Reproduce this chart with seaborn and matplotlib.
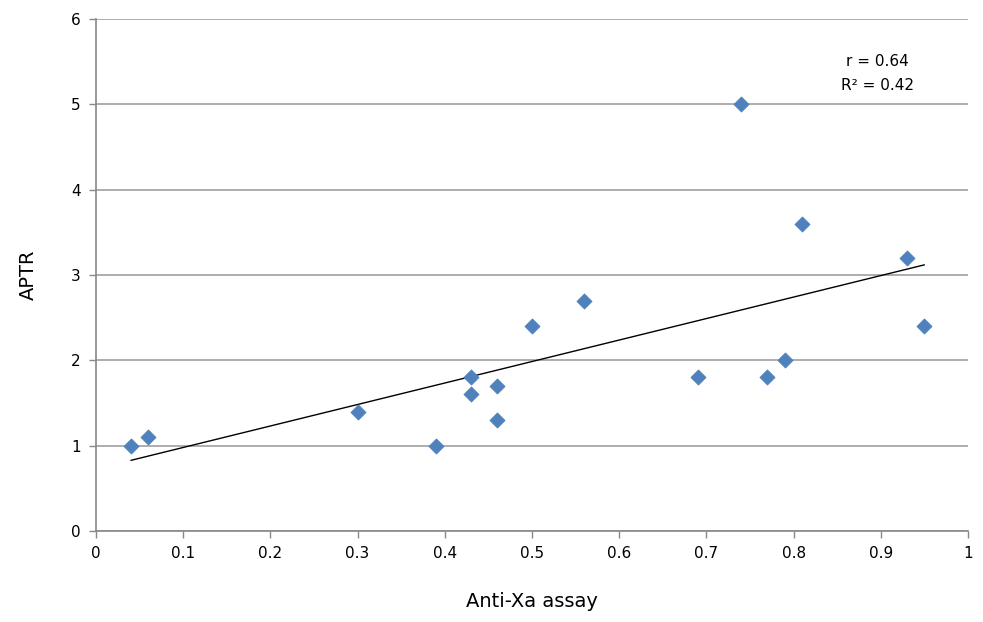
import numpy as np
import pandas as pd
import seaborn as sns
import matplotlib.pyplot as plt

anti_xa = [0.04, 0.06, 0.30, 0.39, 0.43, 0.43, 0.46, 0.46, 0.50, 0.56,
           0.69, 0.74, 0.77, 0.79, 0.81, 0.93, 0.95]
aptr = [1.0, 1.1, 1.4, 1.0, 1.8, 1.6, 1.7, 1.3, 2.4, 2.7,
        1.8, 5.0, 1.8, 2.0, 3.6, 3.2, 2.4]
x_ticks = [0, 0.1, 0.2, 0.3, 0.4, 0.5, 0.6, 0.7, 0.8, 0.9, 1]
x_tick_labels = ['0', '0.1', '0.2', '0.3', '0.4', '0.5', '0.6', '0.7', '0.8', '0.9', '1']
y_ticks = [0, 1, 2, 3, 4, 5, 6]

df = pd.DataFrame({'Anti-Xa assay': anti_xa, 'APTR': aptr})

sns.set_style('white')
plt.rcParams['font.family'] = ['DejaVu Sans']

fig = plt.figure(figsize=(9.83, 6.22), dpi=100)
ax = fig.add_axes([0.0977, 0.1463, 0.887, 0.8232])

# trendline (linear fit, no CI) + diamond markers
sns.regplot(data=df, x='Anti-Xa assay', y='APTR', ax=ax, ci=None,
            scatter=False, line_kws={'color': 'black', 'linewidth': 1.0})
sns.scatterplot(data=df, x='Anti-Xa assay', y='APTR', ax=ax, marker='D',
                s=60, color='#4F81BD', edgecolor='#4F81BD', linewidth=0.5, zorder=3)

ax.set_xlim(0, 1)
ax.set_ylim(0, 6)
ax.set_xticks(x_ticks)
ax.set_xticklabels(x_tick_labels)
ax.set_yticks(y_ticks)
ax.yaxis.grid(True, color='#A0A0A0', linewidth=1.2)
ax.set_axisbelow(True)

for s in ['top', 'right']:
    ax.spines[s].set_visible(False)
for s in ['left', 'bottom']:
    ax.spines[s].set_color('#888888')
    ax.spines[s].set_linewidth(1.2)

ax.tick_params(axis='both', direction='out', length=5, width=1, color='#888888',
               labelsize=11, labelcolor='black', pad=6, left=True, bottom=True)

ax.set_xlabel('Anti-Xa assay', fontsize=14, labelpad=22, color='black')
ax.set_ylabel('APTR', fontsize=14, labelpad=24, color='black')

ax.text(0.896, 5.5, 'r = 0.64', ha='center', va='center', fontsize=11, color='black')
ax.text(0.896, 5.22, 'R² = 0.42', ha='center', va='center', fontsize=11, color='black')

fig.savefig('out.png', dpi=100)
